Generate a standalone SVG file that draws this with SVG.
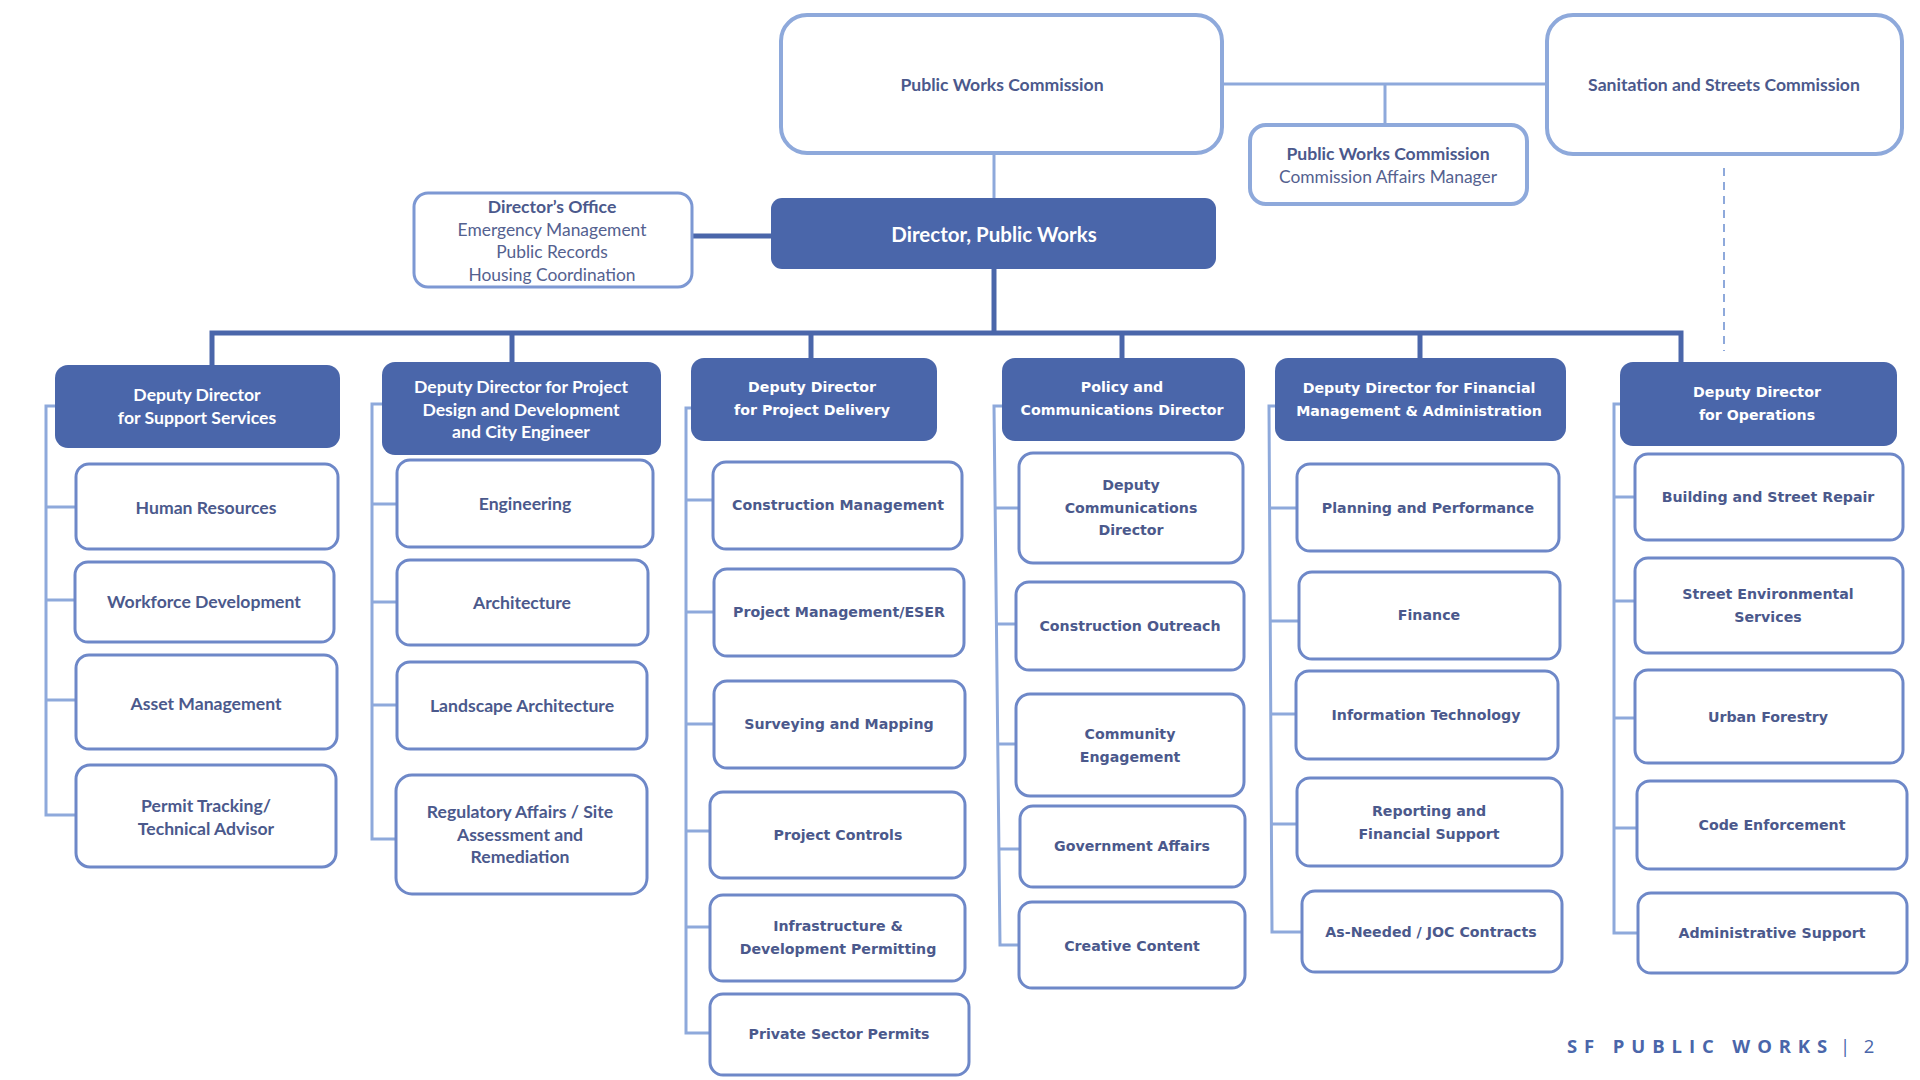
<svg xmlns="http://www.w3.org/2000/svg" width="1920" height="1080" viewBox="0 0 1920 1080">
<style>
.bg{fill:#ffffff}
.top{fill:#fff;stroke:#8EA9DB;stroke-width:4}
.sub{fill:#fff;stroke:#6E88C8;stroke-width:3}
.dep{fill:#4A66AA;stroke:none}
.sp{fill:none;stroke:#8EA9DB;stroke-width:3}
.dk{fill:none;stroke:#4A66AA;stroke-width:5}
.lt{fill:none;stroke:#8EA9DB;stroke-width:3}
.dash{fill:none;stroke:#8EA9DB;stroke-width:2;stroke-dasharray:8 6}
text{text-anchor:middle;dominant-baseline:central}
.c{font-family:Lato,"Liberation Sans",sans-serif;font-weight:700;font-size:17.6px;fill:#4B598C}
.cr{font-family:Lato,"Liberation Sans",sans-serif;font-weight:400;font-size:17.4px;fill:#54618F}
.cw{font-family:Lato,"Liberation Sans",sans-serif;font-weight:700;font-size:17.6px;fill:#ffffff}
.v{font-family:"DejaVu Sans",Verdana,sans-serif;font-weight:700;font-size:14.2px;fill:#4B598C}
.vw{font-family:"DejaVu Sans",Verdana,sans-serif;font-weight:700;font-size:14.2px;fill:#ffffff}
.ft{font-family:"Open Sans","DejaVu Sans",sans-serif;font-weight:700;font-size:18.5px;fill:#4A66AA;letter-spacing:6.9px;text-anchor:start}
.ft2{font-family:"Open Sans","DejaVu Sans",sans-serif;font-weight:400;font-size:18.5px;fill:#4A66AA}
</style>
<rect class="bg" x="0" y="0" width="1920" height="1080"/>

<g id="connectors">
  <line class="lt" x1="1222" y1="84" x2="1547" y2="84"/>
  <line class="lt" x1="1385" y1="84" x2="1385" y2="125"/>
  <line class="lt" x1="994" y1="153" x2="994" y2="198"/>
  <line class="dash" x1="1724" y1="168" x2="1724" y2="351"/>
  <line class="dk" x1="692" y1="236" x2="771" y2="236"/>
  <line class="dk" x1="994" y1="269" x2="994" y2="333"/>
  <path class="dk" d="M212 365 V333 H1681 V362"/>
  <line class="dk" x1="512" y1="333" x2="512" y2="362"/>
  <line class="dk" x1="811" y1="333" x2="811" y2="358"/>
  <line class="dk" x1="1122" y1="333" x2="1122" y2="358"/>
  <line class="dk" x1="1420" y1="333" x2="1420" y2="358"/>
  <path class="sp" d="M55 406 H46 V815 H76 M46 507 H76 M46 600 H75 M46 700 H76"/>
  <path class="sp" d="M382 404 H372 V839 H396 M372 504 H397 M372 602 H397 M372 705 H397"/>
  <path class="sp" d="M691 408 H686 V1033 H710 M686 500 H713 M686 612 H714 M686 724 H714 M686 831 H710 M686 927 H710"/>
  <path class="sp" d="M1002 406 H994 L1000 945 H1019 M995 508 H1019 M996 624 H1016 M997 744 H1016 M999 849 H1020"/>
  <path class="sp" d="M1275 406 H1269 L1272 932 H1302 M1269 508 H1297 M1270 621 H1299 M1271 714 H1296 M1271 824 H1297"/>
  <path class="sp" d="M1620 404 H1614 V933 H1638 M1614 497 H1635 M1614 601 H1635 M1614 718 H1635 M1614 828 H1637"/>
</g>

<g id="pwc"><rect class="top" x="781" y="15" width="441" height="138" rx="26"/><text class="c" x="1002" y="84">Public Works Commission</text></g>
<g id="ssc"><rect class="top" x="1547" y="15" width="355" height="139" rx="26"/><text class="c" x="1724" y="84">Sanitation and Streets Commission</text></g>
<g id="pwc-affairs"><rect class="top" x="1250" y="125" width="277" height="79" rx="16"/><text class="c" x="1388" y="153">Public Works Commission</text><text class="cr" x="1388" y="176">Commission Affairs Manager</text></g>
<g id="director"><rect class="dep" x="771" y="198" width="445" height="71" rx="11"/><text class="cw" x="994" y="234" style="font-size:20.5px">Director, Public Works</text></g>
<g id="directors-office"><rect class="top" x="414" y="193" width="278" height="94" rx="14" style="stroke-width:3;stroke:#7D98D3"/>
  <text class="c" x="552" y="206">Director’s Office</text>
  <text class="cr" x="552" y="229">Emergency Management</text>
  <text class="cr" x="552" y="251">Public Records</text>
  <text class="cr" x="552" y="274">Housing Coordination</text></g>

<g id="dd-support"><rect class="dep" x="55" y="365" width="285" height="83" rx="13"/><text class="cw" x="197" y="394">Deputy Director</text><text class="cw" x="197" y="417">for Support Services</text></g>
<g id="human-resources"><rect class="sub" x="76" y="464" width="262" height="85" rx="13"/><text class="c" x="206" y="507">Human Resources</text></g>
<g id="workforce"><rect class="sub" x="75" y="562" width="259" height="80" rx="13"/><text class="c" x="204" y="601">Workforce Development</text></g>
<g id="asset"><rect class="sub" x="76" y="655" width="261" height="94" rx="13"/><text class="c" x="206" y="703">Asset Management</text></g>
<g id="permit-tracking"><rect class="sub" x="76" y="765" width="260" height="102" rx="14"/><text class="c" x="206" y="805">Permit Tracking/</text><text class="c" x="206" y="828">Technical Advisor</text></g>

<g id="dd-design"><rect class="dep" x="382" y="362" width="279" height="93" rx="13"/><text class="cw" x="521" y="386">Deputy Director for Project</text><text class="cw" x="521" y="409">Design and Development</text><text class="cw" x="521" y="431">and City Engineer</text></g>
<g id="engineering"><rect class="sub" x="397" y="460" width="256" height="87" rx="13"/><text class="c" x="525" y="503">Engineering</text></g>
<g id="architecture"><rect class="sub" x="397" y="560" width="251" height="85" rx="13"/><text class="c" x="522" y="602">Architecture</text></g>
<g id="landscape"><rect class="sub" x="397" y="662" width="250" height="87" rx="13"/><text class="c" x="522" y="705">Landscape Architecture</text></g>
<g id="regulatory"><rect class="sub" x="396" y="775" width="251" height="119" rx="16"/><text class="c" x="520" y="811">Regulatory Affairs / Site</text><text class="c" x="520" y="834">Assessment and</text><text class="c" x="520" y="856">Remediation</text></g>

<g id="dd-delivery"><rect class="dep" x="691" y="358" width="246" height="83" rx="13"/><text class="vw" x="812" y="387">Deputy Director</text><text class="vw" x="812" y="410">for Project Delivery</text></g>
<g id="construction-mgmt"><rect class="sub" x="713" y="462" width="249" height="87" rx="13"/><text class="v" x="838" y="505">Construction Management</text></g>
<g id="project-mgmt"><rect class="sub" x="714" y="569" width="250" height="87" rx="13"/><text class="v" x="839" y="612">Project Management/ESER</text></g>
<g id="surveying"><rect class="sub" x="714" y="681" width="251" height="87" rx="13"/><text class="v" x="839" y="724">Surveying and Mapping</text></g>
<g id="project-controls"><rect class="sub" x="710" y="792" width="255" height="86" rx="13"/><text class="v" x="838" y="835">Project Controls</text></g>
<g id="infrastructure"><rect class="sub" x="710" y="895" width="255" height="86" rx="13"/><text class="v" x="838" y="926">Infrastructure &amp;</text><text class="v" x="838" y="949">Development Permitting</text></g>
<g id="private-sector"><rect class="sub" x="710" y="994" width="259" height="81" rx="13"/><text class="v" x="839" y="1034">Private Sector Permits</text></g>

<g id="policy-comm"><rect class="dep" x="1002" y="358" width="243" height="83" rx="13"/><text class="vw" x="1122" y="387">Policy and</text><text class="vw" x="1122" y="410">Communications Director</text></g>
<g id="deputy-comm"><rect class="sub" x="1019" y="453" width="224" height="110" rx="14"/><text class="v" x="1131" y="485">Deputy</text><text class="v" x="1131" y="508">Communications</text><text class="v" x="1131" y="530">Director</text></g>
<g id="construction-outreach"><rect class="sub" x="1016" y="582" width="228" height="88" rx="13"/><text class="v" x="1130" y="626">Construction Outreach</text></g>
<g id="community"><rect class="sub" x="1016" y="694" width="228" height="102" rx="14"/><text class="v" x="1130" y="734">Community</text><text class="v" x="1130" y="757">Engagement</text></g>
<g id="government"><rect class="sub" x="1020" y="806" width="225" height="81" rx="13"/><text class="v" x="1132" y="846">Government Affairs</text></g>
<g id="creative"><rect class="sub" x="1019" y="902" width="226" height="86" rx="13"/><text class="v" x="1132" y="946">Creative Content</text></g>

<g id="dd-financial"><rect class="dep" x="1275" y="358" width="291" height="83" rx="13"/><text class="vw" x="1419" y="388">Deputy Director for Financial</text><text class="vw" x="1419" y="411">Management &amp; Administration</text></g>
<g id="planning"><rect class="sub" x="1297" y="464" width="262" height="87" rx="13"/><text class="v" x="1428" y="508">Planning and Performance</text></g>
<g id="finance"><rect class="sub" x="1299" y="572" width="261" height="87" rx="13"/><text class="v" x="1429" y="615">Finance</text></g>
<g id="it"><rect class="sub" x="1296" y="671" width="262" height="88" rx="13"/><text class="v" x="1426" y="715">Information Technology</text></g>
<g id="reporting"><rect class="sub" x="1297" y="778" width="265" height="88" rx="13"/><text class="v" x="1429" y="811">Reporting and</text><text class="v" x="1429" y="834">Financial Support</text></g>
<g id="as-needed"><rect class="sub" x="1302" y="891" width="260" height="81" rx="13"/><text class="v" x="1431" y="932">As-Needed / JOC Contracts</text></g>

<g id="dd-operations"><rect class="dep" x="1620" y="362" width="277" height="84" rx="13"/><text class="vw" x="1757" y="392">Deputy Director</text><text class="vw" x="1757" y="415">for Operations</text></g>
<g id="building"><rect class="sub" x="1635" y="454" width="268" height="86" rx="13"/><text class="v" x="1768" y="497">Building and Street Repair</text></g>
<g id="street-env"><rect class="sub" x="1635" y="558" width="268" height="95" rx="13"/><text class="v" x="1768" y="594">Street Environmental</text><text class="v" x="1768" y="617">Services</text></g>
<g id="urban-forestry"><rect class="sub" x="1635" y="670" width="268" height="93" rx="13"/><text class="v" x="1768" y="717">Urban Forestry</text></g>
<g id="code"><rect class="sub" x="1637" y="781" width="270" height="88" rx="13"/><text class="v" x="1772" y="825">Code Enforcement</text></g>
<g id="admin-support"><rect class="sub" x="1638" y="893" width="269" height="80" rx="13"/><text class="v" x="1772" y="933">Administrative Support</text></g>

<g id="footer"><text class="ft" x="1567" y="1045">SF PUBLIC WORKS</text><text class="ft2" x="1845" y="1045">|</text><text class="ft2" x="1869" y="1045">2</text></g>
</svg>
